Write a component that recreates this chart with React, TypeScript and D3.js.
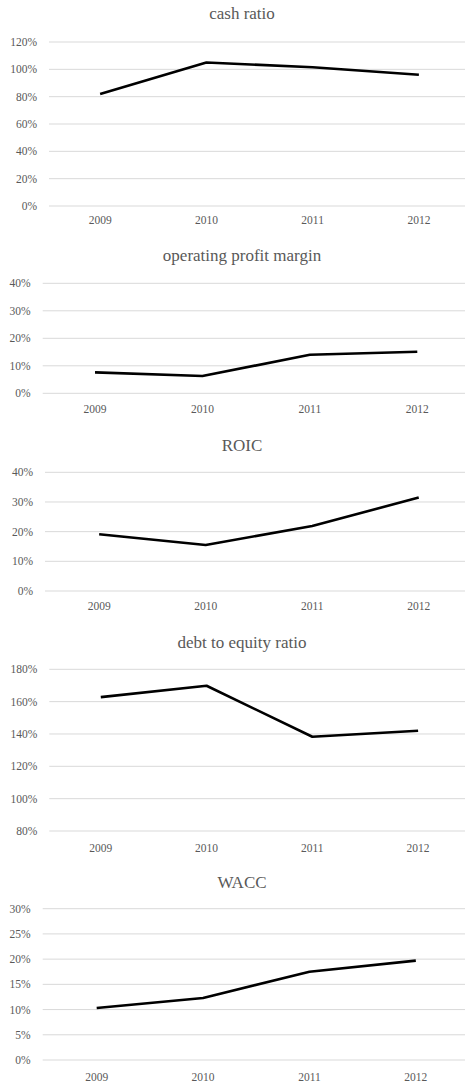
import React from "react";
import * as d3 from "d3";

const years = ["2009", "2010", "2011", "2012"];

const cashRatio = [82, 105, 101.5, 96];
const operatingProfitMargin = [7.6, 6.3, 14.0, 15.1];
const roic = [19.1, 15.5, 21.9, 31.5];
const debtToEquity = [162.8, 169.8, 138.3, 142];
const wacc = [10.3, 12.3, 17.5, 19.7];

const cashTicks = [0, 20, 40, 60, 80, 100, 120];
const opmTicks = [0, 10, 20, 30, 40];
const roicTicks = [0, 10, 20, 30, 40];
const deTicks = [80, 100, 120, 140, 160, 180];
const waccTicks = [0, 5, 10, 15, 20, 25, 30];

const titles = ["cash ratio", "operating profit margin", "ROIC", "debt to equity ratio", "WACC"];
const seriesList = [cashRatio, operatingProfitMargin, roic, debtToEquity, wacc];
const tickList = [cashTicks, opmTicks, roicTicks, deTicks, waccTicks];

// layout per panel (pixels)
const layout = [
  { titleY: 13, top: 42, bottom: 206, left: 47, right: 472, gridLeft: 49, xLabelY: 220 },
  { titleY: 255, top: 283.3, bottom: 393.3, left: 41.3, right: 471, gridLeft: 42.7, xLabelY: 409 },
  { titleY: 445, top: 472.3, bottom: 591, left: 45.9, right: 472, gridLeft: 45, xLabelY: 606 },
  { titleY: 642.7, top: 669.3, bottom: 831, left: 47.9, right: 471, gridLeft: 49.3, xLabelY: 847.7 },
  { titleY: 882.3, top: 908.7, bottom: 1060, left: 43.5, right: 469, gridLeft: 42.7, xLabelY: 1076.7 },
];

const FONT = "Liberation Serif, Times New Roman, Tinos, DejaVu Serif, serif";
const GRAY = "#595959";

function Panel({ idx }: { idx: number }) {
  const L = layout[idx];
  const ticks = tickList[idx];
  const values = seriesList[idx];
  const x = d3.scalePoint<string>().domain(years).range([L.left, L.right]).padding(0.5);
  const y = d3
    .scaleLinear()
    .domain([ticks[0], ticks[ticks.length - 1]])
    .range([L.bottom, L.top]);
  const line = d3
    .line<number>()
    .x((_, i) => x(years[i]) as number)
    .y((d) => y(d));
  return (
    <g>
      <text
        x={242}
        y={L.titleY}
        textAnchor="middle"
        dominantBaseline="central"
        style={{ fontFamily: FONT, fontSize: "17px" }}
        fill={GRAY}
      >
        {titles[idx]}
      </text>
      {ticks.map((t) => (
        <g key={t}>
          <line x1={L.gridLeft} x2={465} y1={y(t)} y2={y(t)} stroke="#d9d9d9" strokeWidth={1} />
          <text
            x={L.gridLeft - 12}
            y={y(t)}
            textAnchor="end"
            dominantBaseline="central"
            style={{ fontFamily: FONT, fontSize: "11.5px" }}
            fill={GRAY}
          >
            {t}%
          </text>
        </g>
      ))}
      {years.map((yr) => (
        <text
          key={yr}
          x={x(yr)}
          y={L.xLabelY}
          textAnchor="middle"
          dominantBaseline="central"
          style={{ fontFamily: FONT, fontSize: "11.5px" }}
          fill={GRAY}
        >
          {yr}
        </text>
      ))}
      <path d={line(values) || ""} fill="none" stroke="#000" strokeWidth={2.6} strokeLinejoin="round" />
    </g>
  );
}

export default function App() {
  return (
    <svg
      width={465}
      height={1086}
      style={{ position: "absolute", left: 0, top: 0, background: "#fff" }}
    >
      <rect x={0} y={0} width={465} height={1086} fill="#fff" />
      {titles.map((_, i) => (
        <Panel key={i} idx={i} />
      ))}
    </svg>
  );
}
